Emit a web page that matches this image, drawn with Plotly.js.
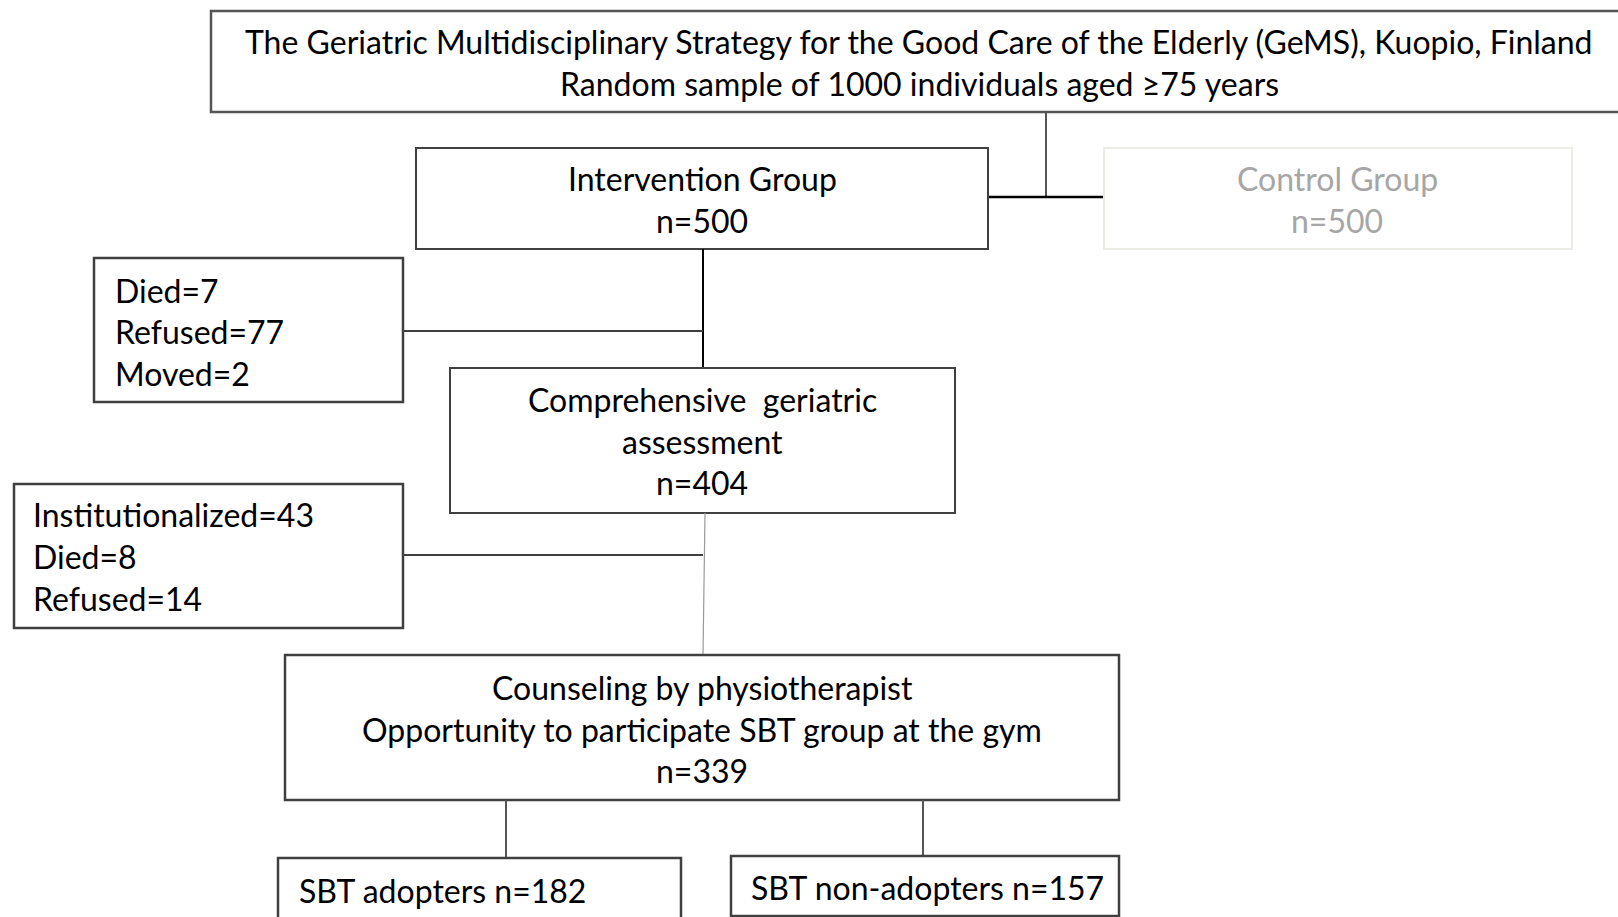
<!DOCTYPE html>
<html>
<head>
<meta charset="utf-8">
<script src="https://cdn.plot.ly/plotly-3.0.1.min.js"></script>
<style>html,body{margin:0;padding:0;background:#fff;}#chart{width:1618px;height:917px;}</style>
</head>
<body>
<div id="chart"></div>
<script>
// ---- data ----
const studyTitle = ['The Geriatric Multidisciplinary Strategy for the Good Care of the Elderly (GeMS), Kuopio, Finland'];
const sampleSize = [1000];
const minAge = [75];
const groupNames = ['Intervention Group', 'Control Group'];
const groupN = [500, 500];
const loss1Labels = ['Died', 'Refused', 'Moved'];
const loss1Values = [7, 77, 2];
const cgaLabel = ['Comprehensive  geriatric', 'assessment'];
const cgaN = [404];
const loss2Labels = ['Institutionalized', 'Died', 'Refused'];
const loss2Values = [43, 8, 14];
const counselLabel = ['Counseling by physiotherapist', 'Opportunity to participate SBT group at the gym'];
const counselN = [339];
const outcomeLabels = ['SBT adopters', 'SBT non-adopters'];
const outcomeN = [182, 157];

// ---- layout geometry (pixels) ----
const FONT = 'Lato, "Open Sans", sans-serif';
const FS = 32;
const shapes = [];
const ann = [];
function box(x0, y0, x1, y1, color, w) {
  shapes.push({type: 'rect', xref: 'x', yref: 'y', x0: x0, y0: y0, x1: x1, y1: y1,
    line: {color: color || '#404040', width: w || 2}, fillcolor: 'rgba(0,0,0,0)'});
}
function line(x0, y0, x1, y1, color, w) {
  shapes.push({type: 'line', xref: 'x', yref: 'y', x0: x0, y0: y0, x1: x1, y1: y1,
    line: {color: color || '#000', width: w || 2}});
}
function text(t, x, y, anchor, color) {
  ann.push({text: t, x: x, y: y, xref: 'x', yref: 'y', xanchor: anchor || 'center', yanchor: 'middle',
    showarrow: false, font: {family: FONT, size: FS, color: color || '#000'}});
}

// top box
box(211, 11, 1625, 112, '#555', 2.5);
text(studyTitle[0], 919, 41);
text('Random sample of ' + sampleSize[0] + ' individuals aged \u2265' + minAge[0] + ' years', 919, 83);
line(1046, 112, 1046, 197, '#555', 2);
line(988, 197, 1104, 197, '#000', 2.5);

// groups
box(416, 148, 988, 249, '#404040', 2);
text(groupNames[0], 702, 178);
text('n=' + groupN[0], 702, 220);
box(1104, 148, 1572, 249, '#ecece6', 2);
text(groupNames[1], 1337, 178, 'center', '#a6a6a6');
text('n=' + groupN[1], 1337, 220, 'center', '#a6a6a6');

// intervention -> CGA
line(703, 249, 703, 368, '#000', 2);
line(403, 331, 703, 331, '#404040', 2);
box(94, 258, 403, 402, '#404040', 2.5);
loss1Labels.forEach((l, i) => text(l + '=' + loss1Values[i], 113, 290 + i * 41.5, 'left'));

// CGA box
box(450, 368, 955, 513, '#404040', 2);
text(cgaLabel[0], 702, 399);
text(cgaLabel[1], 702, 441);
text('n=' + cgaN[0], 702, 482);

// CGA -> counseling
line(705, 513, 703, 655, '#999', 1.2);
line(403, 555, 703, 555, '#404040', 2);
box(14, 484, 403, 628, '#404040', 2.5);
loss2Labels.forEach((l, i) => text(l + '=' + loss2Values[i], 31, 514 + i * 42, 'left'));

// counseling box
box(285, 655, 1119, 800, '#404040', 2.5);
text(counselLabel[0], 702, 687);
text(counselLabel[1], 702, 729);
text('n=' + counselN[0], 702, 770);

// outcomes
line(506, 800, 506, 858, '#555', 2);
line(923, 800, 923, 856, '#555', 2);
box(278, 858, 681, 930, '#404040', 2.5);
box(731, 856, 1119, 916, '#404040', 2.5);
text(outcomeLabels[0] + ' n=' + outcomeN[0], 297, 890, 'left');
text(outcomeLabels[1] + ' n=' + outcomeN[1], 749, 887, 'left');

const layout = {
  width: 1618, height: 917,
  margin: {l: 0, r: 0, t: 0, b: 0},
  paper_bgcolor: '#fff', plot_bgcolor: '#fff',
  showlegend: false,
  xaxis: {range: [0, 1618], visible: false, fixedrange: true},
  yaxis: {range: [917, 0], visible: false, fixedrange: true},
  shapes: shapes,
  annotations: ann
};
Plotly.newPlot('chart', [], layout, {displayModeBar: false, staticPlot: true});
</script>
</body>
</html>
